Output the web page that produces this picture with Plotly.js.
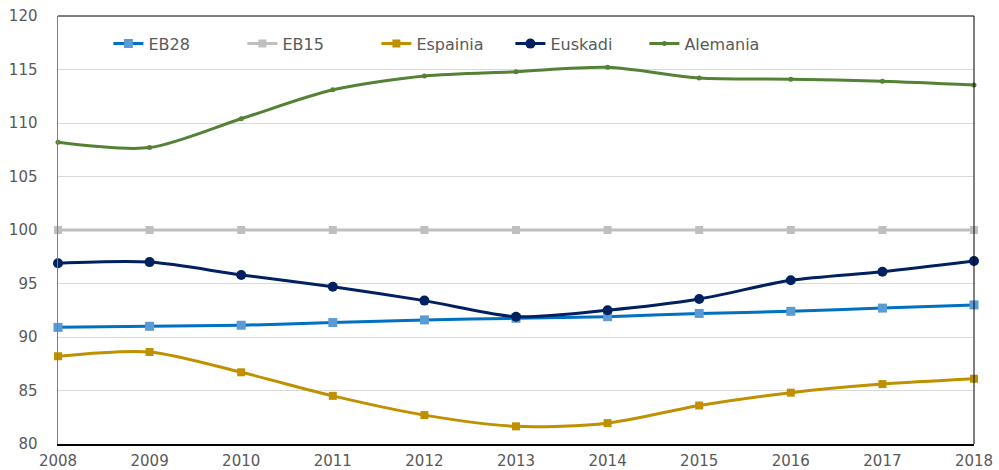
<!DOCTYPE html>
<html>
<head>
<meta charset="utf-8">
<script src="https://cdn.plot.ly/plotly-3.0.1.min.js"></script>
<style>html,body{margin:0;padding:0;background:#fff;}#chart{width:999px;height:470px;}</style>
</head>
<body>
<div id="chart"></div>
<script>
var years = [2008, 2009, 2010, 2011, 2012, 2013, 2014, 2015, 2016, 2017, 2018];
var eb28 = [90.9, 91.0, 91.1, 91.35, 91.6, 91.75, 91.9, 92.2, 92.4, 92.7, 93.0];
var eb15 = [100, 100, 100, 100, 100, 100, 100, 100, 100, 100, 100];
var espainia = [88.2, 88.6, 86.7, 84.5, 82.7, 81.65, 81.95, 83.6, 84.8, 85.6, 86.1];
var euskadi = [96.9, 97.0, 95.8, 94.7, 93.4, 91.9, 92.5, 93.55, 95.3, 96.1, 97.1];
var alemania = [108.2, 107.7, 110.4, 113.1, 114.4, 114.8, 115.2, 114.2, 114.1, 113.9, 113.55];
var yTicks = [80, 85, 90, 95, 100, 105, 110, 115, 120];

function tr(name, y, lineColor, markerColor, symbol, size) {
  return {
    x: years, y: y, name: name, type: 'scatter', mode: 'lines+markers',
    line: {color: lineColor, width: 3, shape: 'spline', smoothing: 0.8},
    marker: {color: markerColor, symbol: symbol, size: size},
    cliponaxis: false
  };
}
var data = [
  tr('EB28', eb28, '#0070C0', '#5B9BD5', 'square', 9),
  tr('EB15', eb15, '#BFBFBF', '#BFBFBF', 'square', 8),
  tr('Espainia', espainia, '#BF9000', '#BF9000', 'square', 8),
  tr('Euskadi', euskadi, '#002060', '#002060', 'circle', 10),
  tr('Alemania', alemania, '#548235', '#548235', 'circle', 5)
];
var font = {family: 'DejaVu Sans', size: 15, color: '#595959'};
var layout = {
  width: 999, height: 470,
  margin: {l: 58, r: 25, t: 16, b: 26, pad: 0},
  paper_bgcolor: '#fff', plot_bgcolor: '#fff',
  font: font,
  showlegend: true,
  legend: {orientation: 'h', x: 0.055, y: 0.975, xanchor: 'left', yanchor: 'top',
           font: {family: 'DejaVu Sans', size: 16, color: '#595959'},
           entrywidth: 89, entrywidthmode: 'pixels', bgcolor: 'rgba(0,0,0,0)'},
  xaxis: {range: [2008, 2018], tickvals: years, ticktext: years.map(String),
          showgrid: false, zeroline: false, showline: true, linecolor: '#000', linewidth: 2,
          ticks: '', tickfont: font, ticklabelstandoff: 2, fixedrange: true},
  yaxis: {range: [80, 120], tickvals: yTicks, showgrid: true, gridcolor: '#D9D9D9', gridwidth: 1,
          zeroline: false, showline: true, linecolor: '#7F7F7F', linewidth: 1.5,
          ticks: '', tickfont: font, ticklabelstandoff: 16, fixedrange: true},
  shapes: [
    {type: 'line', xref: 'paper', yref: 'paper', x0: 0, x1: 1, y0: 1, y1: 1, line: {color: '#000', width: 1}},
    {type: 'line', xref: 'paper', yref: 'paper', x0: 1, x1: 1, y0: 0, y1: 1, line: {color: '#000', width: 1}}
  ]
};
Plotly.newPlot('chart', data, layout, {displayModeBar: false, staticPlot: true});
</script>
</body>
</html>
